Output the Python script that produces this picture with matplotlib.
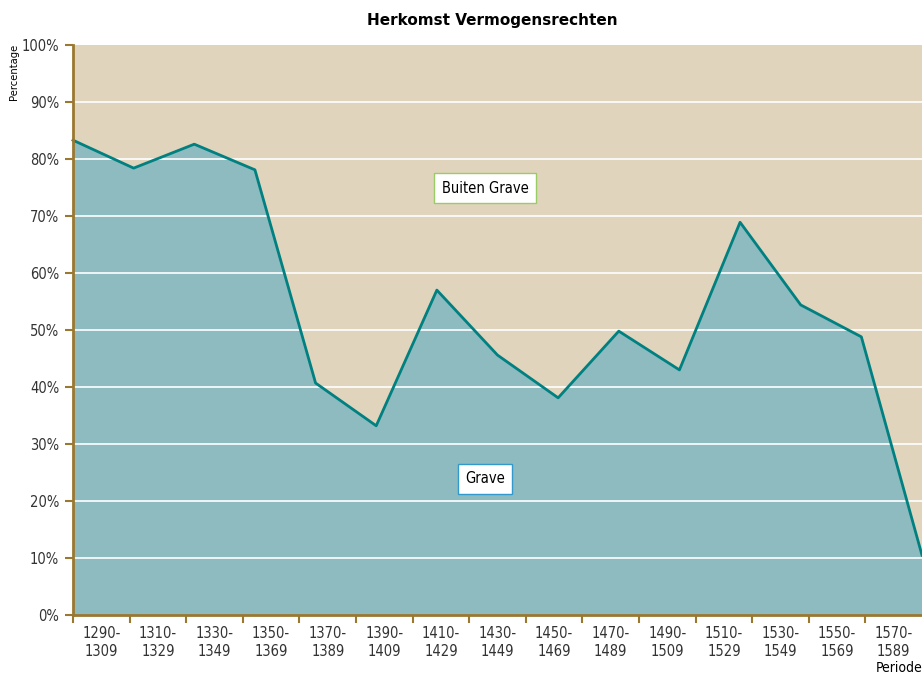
import matplotlib
matplotlib.use('Agg')
import matplotlib.pyplot as plt
import numpy as np

plt.rcParams['font.family'] = ['DejaVu Sans']
plt.rcParams['font.stretch'] = 'condensed'

periods = ['1290-\n1309', '1310-\n1329', '1330-\n1349', '1350-\n1369', '1370-\n1389',
           '1390-\n1409', '1410-\n1429', '1430-\n1449', '1450-\n1469', '1470-\n1489',
           '1490-\n1509', '1510-\n1529', '1530-\n1549', '1550-\n1569', '1570-\n1589']
grave = [83.3, 78.4, 82.6, 78.1, 40.7, 33.2, 57.0, 45.6, 38.1, 49.8,
         43.0, 68.9, 54.4, 48.8, 10.5]

brown = '#9a7830'
n = len(periods)
x = np.arange(n) * n / (n - 1)

fig = plt.figure(figsize=(9.22, 6.76), dpi=100)
ax = fig.add_axes([73/922, 61/676, 849/922, 570/676])
ax.set_facecolor('#e0d4bd')
ax.fill_between(x, grave, 0, color='#8dbbbf', lw=0, zorder=1)
for v in range(10, 100, 10):
    ax.axhline(v, color='white', lw=1.2, zorder=2)
ax.plot(x, grave, color='#008080', lw=2, zorder=3, clip_on=False)

ax.set_xlim(0, n)
ax.set_ylim(0, 100)
ax.set_yticks(range(0, 101, 10))
ax.set_yticklabels([f'{v}%' for v in range(0, 101, 10)], fontsize=10.5, color='#333333')
ax.set_xticks(range(n))
ax.set_xticklabels([])
ax.set_xticks(np.arange(n) + 0.5, minor=True)
ax.set_xticklabels(periods, minor=True, fontsize=10.5, color='#333333')
ax.tick_params(axis='x', which='major', length=6, width=1.5, color=brown, direction='out')
ax.tick_params(axis='x', which='minor', length=0, pad=8)
ax.tick_params(axis='y', length=6, width=1.5, color=brown, direction='out', pad=4)

for s in ['top', 'right']:
    ax.spines[s].set_visible(False)
for s in ['left', 'bottom']:
    ax.spines[s].set_color(brown)
    ax.spines[s].set_linewidth(2)
    ax.spines[s].set_zorder(4)

fig.text(492/922, 1 - 20/676, 'Herkomst Vermogensrechten', ha='center', va='center',
         fontsize=11, fontweight='bold', stretch='normal')
fig.text(14/922, 1 - 72/676, 'Percentage', rotation=90, ha='center', va='center', fontsize=8)
fig.text(1.0, 1 - 668/676, 'Periode', ha='right', va='center', fontsize=10)

ax.text(7.28, 74.9, 'Buiten Grave', ha='center', va='center', fontsize=10.5, zorder=5,
        bbox=dict(boxstyle='square,pad=0.5', fc='white', ec='#99cc66', lw=1))
ax.text(7.28, 23.9, 'Grave', ha='center', va='center', fontsize=10.5, zorder=5,
        bbox=dict(boxstyle='square,pad=0.5', fc='white', ec='#3399cc', lw=1))

fig.savefig('out.png', dpi=100)
